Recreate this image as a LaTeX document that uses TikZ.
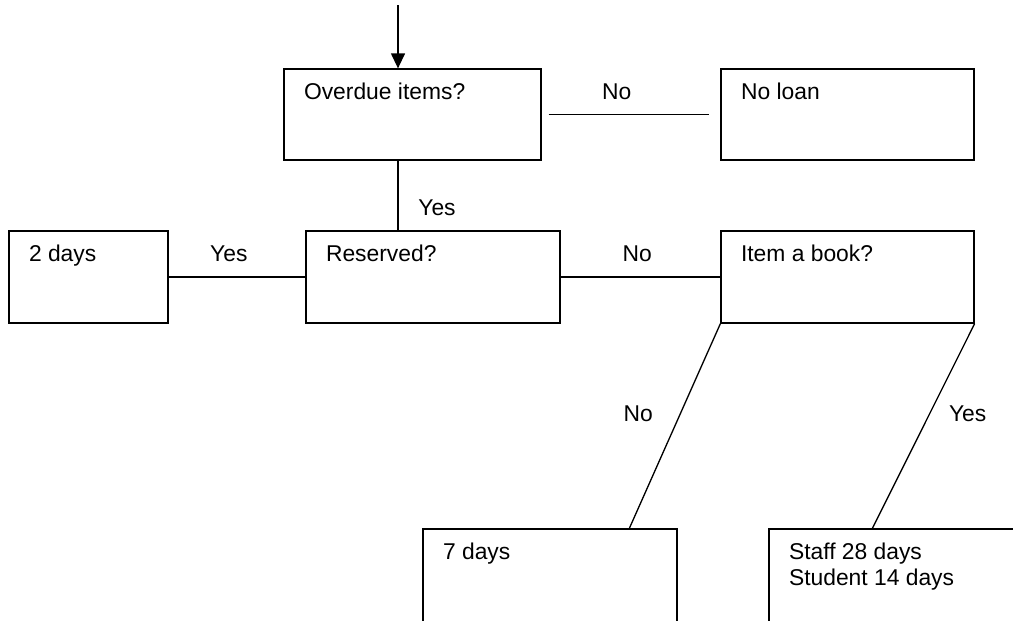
\documentclass[tikz,border=0pt]{standalone}
\usepackage{fontspec}
\setmainfont{Liberation Sans}
\usetikzlibrary{arrows.meta}

\begin{document}
\begin{tikzpicture}[x=0.02cm, y=-0.02cm, line width=0.75pt,
    box/.style={draw, rectangle, inner sep=0pt},
    txt/.style={anchor=north west, inner sep=0pt, align=left, xshift=0.4cm, yshift=-0.28cm, font=\fontsize{13}{14.8}\selectfont},
    lbl/.style={inner sep=0pt, font=\fontsize{13}{14.8}\selectfont}]
    \useasboundingbox (0, 0) rectangle (1013, 620);
    % nodes: over noloan
    \node[box, minimum width=5.14cm, minimum height=1.82cm, label={[txt]north west:Overdue items?}] (over) at (412.5, 114.5) {};
    \node[box, minimum width=5.06cm, minimum height=1.82cm, label={[txt]north west:No loan}] (noloan) at (847.5, 114.5) {};
    % nodes: twodays reserved book
    \node[box, minimum width=3.18cm, minimum height=1.84cm, label={[txt]north west:2 days}] (twodays) at (88.5, 277) {};
    \node[box, minimum width=5.08cm, minimum height=1.84cm, label={[txt]north west:Reserved?}] (reserved) at (433, 277) {};
    \node[box, minimum width=5.06cm, minimum height=1.84cm, label={[txt]north west:Item a book?}] (book) at (847.5, 277) {};
    % nodes: seven staff
    \node[box, minimum width=5.08cm, minimum height=2cm, label={[txt]north west:7 days}] (seven) at (550, 579) {};
    \node[box, minimum width=5.06cm, minimum height=2cm, label={[txt]north west:Staff 28 days\\Student 14 days}] (staff) at (895.5, 579) {};

    % edges: in, over-noloan, over-reserved
    \coordinate (start) at (398, 5);
    \draw[-{Triangle[length=0.3cm, width=0.28cm]}] (start) -- (start |- over.north);
    \draw[shorten <=0.14cm, shorten >=0.22cm] (over) -- node[lbl, pos=0.42, yshift=0.46cm] {No} (noloan);
    \draw (over.south -| start) -- node[lbl, pos=0.68, xshift=0.78cm] {Yes} (reserved.north -| start);
    % edges: twodays-reserved, reserved-book
    \draw (twodays) -- node[lbl, pos=0.44, yshift=0.46cm] {Yes} (reserved);
    \draw (reserved) -- node[lbl, pos=0.48, yshift=0.46cm] {No} (book);
    % edges: book-seven, book-staff
    \draw (book.south west) -- node[lbl, pos=0.44, xshift=-0.84cm] {No} ([xshift=4.14cm]seven.north west);
    \draw (book.south east) -- node[lbl, pos=0.44, xshift=0.76cm] {Yes} ([xshift=2.08cm]staff.north west);
\end{tikzpicture}
\end{document}
